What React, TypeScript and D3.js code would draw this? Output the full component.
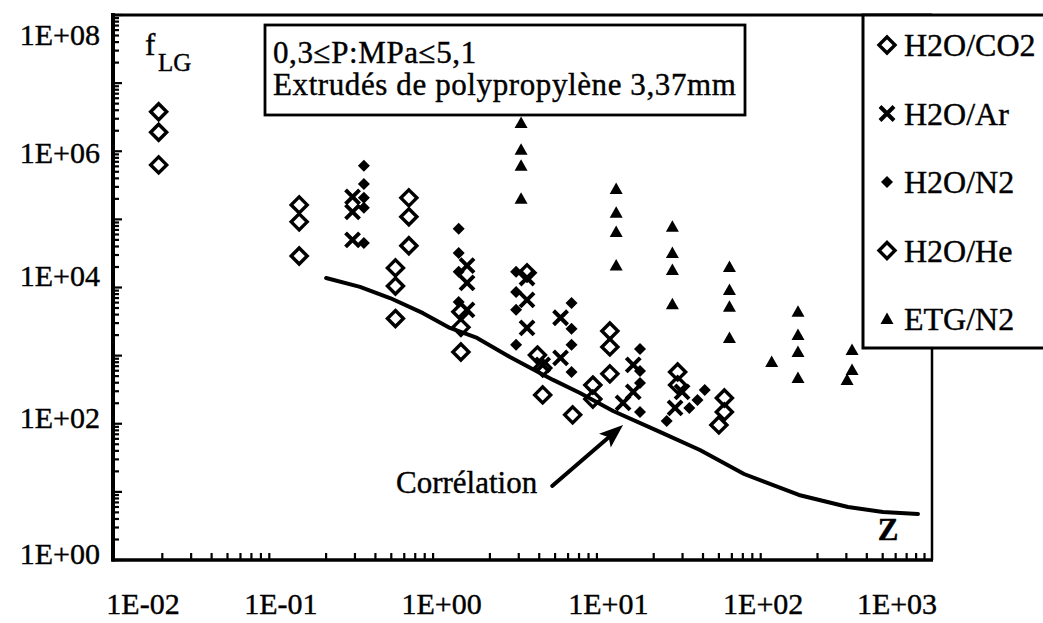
import React, { useEffect, useRef } from 'react';
import * as d3 from 'd3';

// [Z, f_LG] pairs
const h2oCo2: [number, number][] = [
  [0.019, 3.8e6], [0.019, 1.9e6], [0.019, 6.3e5],
  [0.137, 1.63e5], [0.137, 9.2e4], [0.137, 2.9e4],
  [0.64, 2.07e5], [0.64, 1.09e5], [0.64, 4.1e4],
  [0.53, 1.94e4], [0.53, 1.05e4], [0.53, 3.5e3],
  [1.33, 4.4e3], [1.33, 2.6e3], [1.33, 1.13e3],
];
const h2oAr: [number, number][] = [
  [0.29, 2.14e5], [0.29, 1.29e5], [0.29, 5.0e4],
  [1.45, 2.1e4], [1.45, 1.17e4], [1.45, 4.7e3],
  [3.37, 1.38e4], [3.37, 6.6e3], [3.37, 2.55e3],
  [4.2, 730], [5.4, 3.6e3], [5.4, 925],
  [13.0, 202], [15, 730], [15, 293],
  [29.8, 293], [27, 171],
];
const h2oN2: [number, number][] = [
  [0.34, 6.1e5], [0.34, 3.3e5], [0.34, 2.07e5], [0.34, 1.48e5], [0.34, 4.5e4],
  [1.29, 7.3e4], [1.29, 3.2e4], [1.29, 1.7e4], [1.29, 6.1e3],
  [2.89, 1.7e4], [2.89, 8.6e3], [2.89, 4.7e3], [2.89, 1.44e3],
  [6.3, 5.9e3], [6.3, 2.47e3], [6.3, 1.44e3], [6.3, 576],
  [16.5, 1.25e3], [16.5, 596], [16.5, 397], [16.5, 149],
  [24, 110], [41, 313], [37, 224], [33, 171],
];
const h2oHe: [number, number][] = [
  [3.37, 1.64e4], [3.9, 1.02e3], [4.2, 660], [4.2, 265],
  [6.4, 135], [8.5, 370], [8.5, 230],
  [10.8, 2.3e3], [10.8, 1.34e3], [10.8, 540],
  [28, 576], [28, 371],
  [54, 239], [54, 149], [50, 96],
];
const etgN2: [number, number][] = [
  [3.1, 2.6e6], [3.1, 1.05e6], [3.1, 6.1e5], [3.1, 2.0e5],
  [11.8, 2.8e5], [11.8, 1.25e5], [11.8, 6.5e4], [11.8, 2.1e4],
  [26, 7.8e4], [26, 3.2e4], [26, 1.8e4], [26, 5.7e3],
  [58, 2.0e4], [58, 9.2e3], [58, 5.2e3], [58, 1.82e3],
  [105, 808],
  [152, 4.4e3], [152, 2.0e3], [152, 1.13e3], [152, 471],
  [325, 1.21e3], [325, 617], [303, 440],
];

// correlation curve
const corrZ = [0.2, 0.322, 0.491, 0.781, 1.14, 1.67, 2.65, 4.86, 7.1, 11.3, 21.8, 38.3, 71.2, 154, 307, 502, 821];
const corrF = [1.38e4, 1.02e4, 7.0e3, 4.2e3, 2.55e3, 1.82e3, 957, 440, 283, 154, 75.8, 41.2, 18.3, 9.0, 6.0, 5.07, 4.74];

const xTickValues = [1e-2, 1e-1, 1, 10, 100, 1000];
const xTickLabels = ['1E-02', '1E-01', '1E+00', '1E+01', '1E+02', '1E+03'];
const yTickValues = [1, 1e2, 1e4, 1e6, 1e8];
const yTickLabels = ['1E+00', '1E+02', '1E+04', '1E+06', '1E+08'];

const legendNames = ['H2O/CO2', 'H2O/Ar', 'H2O/N2', 'H2O/He', 'ETG/N2'];
const legendShapes = ['diamond', 'cross', 'dot', 'diamond', 'triangle'];

const FONT = 'Times New Roman, Liberation Serif, DejaVu Serif, serif';

function App() {
  const ref = useRef<SVGSVGElement>(null);

  useEffect(() => {
    const svg = d3.select(ref.current);
    svg.selectAll('*').remove();

    const left = 113, right = 932, top = 15, bottom = 560;
    const x = d3.scaleLog().domain([1e-2, 1e3]).range([left, right]);
    const y = d3.scaleLog().domain([1, 1e8]).range([bottom, top]);

    // helper so every text gets the same slightly heavy "scanned" look
    const txt = (sel: any) => sel.style('font-family', FONT)
      .attr('stroke', '#000').attr('stroke-width', 0.4).attr('fill', '#000');

    // minor / major ticks, pointing inwards
    const minorX: number[] = [], minorY: number[] = [];
    for (let k = -2; k < 3; k++) for (let m = 2; m <= 9; m++) minorX.push(m * Math.pow(10, k));
    for (let k = 0; k < 8; k++) for (let m = 2; m <= 9; m++) minorY.push(m * Math.pow(10, k));
    const majorY = d3.range(0, 9).map(k => Math.pow(10, k));

    const ticks = svg.append('g').attr('stroke', '#000').attr('stroke-width', 2.2);
    ticks.selectAll('.mx').data(minorX).enter().append('line')
      .attr('x1', d => x(d)).attr('x2', d => x(d))
      .attr('y1', bottom).attr('y2', bottom - 7);
    ticks.selectAll('.my').data(minorY).enter().append('line')
      .attr('y1', d => y(d)).attr('y2', d => y(d))
      .attr('x1', left).attr('x2', left + 6);
    ticks.selectAll('.My').data(majorY).enter().append('line')
      .attr('y1', d => y(d)).attr('y2', d => y(d))
      .attr('x1', left).attr('x2', left + 9);

    // frame
    svg.append('line').attr('x1', left).attr('x2', left).attr('y1', top - 2).attr('y2', bottom + 1.5)
      .attr('stroke', '#000').attr('stroke-width', 4);
    svg.append('line').attr('x1', left - 1.5).attr('x2', right + 1).attr('y1', bottom).attr('y2', bottom)
      .attr('stroke', '#000').attr('stroke-width', 3.5);
    svg.append('line').attr('x1', left).attr('x2', right).attr('y1', top).attr('y2', top)
      .attr('stroke', '#000').attr('stroke-width', 3);
    svg.append('line').attr('x1', right).attr('x2', right).attr('y1', top).attr('y2', bottom)
      .attr('stroke', '#000').attr('stroke-width', 2.5);

    // tick labels (edge labels pulled inwards like the original)
    const xShift = [30, 4, 1, 4, -5, -35];
    svg.append('g').selectAll('text').data(xTickValues).enter().append('text')
      .attr('x', (d, i) => x(d) + xShift[i]).attr('y', 614)
      .attr('text-anchor', 'middle').attr('font-size', 30)
      .call(txt)
      .text((d, i) => xTickLabels[i]);
    const yShift = [-6, -6, -12, 2, 20];
    svg.append('g').selectAll('text').data(yTickValues).enter().append('text')
      .attr('x', 100).attr('y', (d, i) => y(d) + yShift[i] + 10)
      .attr('text-anchor', 'end').attr('font-size', 30)
      .call(txt)
      .text((d, i) => yTickLabels[i]);

    // correlation curve
    const line = d3.line<number>().x((d, i) => x(corrZ[i])).y(d => y(d));
    svg.append('path').datum(corrF).attr('d', line)
      .attr('fill', 'none').attr('stroke', '#000').attr('stroke-width', 4)
      .attr('stroke-linecap', 'round').attr('stroke-linejoin', 'round');

    // marker shapes
    const shapePath = (s: string) => {
      if (s === 'diamond') return 'M0,-8L8,0L0,8L-8,0Z';
      if (s === 'dot') return 'M0,-6L6,0L0,6L-6,0Z';
      if (s === 'triangle') return 'M0,-6.5L6.5,5L-6.5,5Z';
      return 'M-7,-7L7,7M7,-7L-7,7';
    };
    const drawMarker = (g: any, s: string) => {
      const p = g.append('path').attr('d', shapePath(s));
      if (s === 'diamond') p.attr('fill', 'none').attr('stroke', '#000').attr('stroke-width', 3.4);
      else if (s === 'cross') p.attr('fill', 'none').attr('stroke', '#000').attr('stroke-width', 4);
      else p.attr('fill', '#000');
    };
    const plotSeries = (data: [number, number][], s: string) => {
      const g = svg.append('g');
      data.forEach(d => {
        const m = g.append('g').attr('transform', `translate(${x(d[0])},${y(d[1])})`);
        drawMarker(m, s);
      });
    };
    plotSeries(h2oAr, 'cross');
    plotSeries(h2oN2, 'dot');
    plotSeries(h2oCo2, 'diamond');
    plotSeries(h2oHe, 'diamond');
    plotSeries(etgN2, 'triangle');

    // axis name labels
    const fl = svg.append('text').attr('x', 145).attr('y', 55).attr('font-size', 31).call(txt);
    fl.append('tspan').text('f');
    fl.append('tspan').attr('x', 158).attr('y', 71).attr('font-size', 25).text('LG');
    svg.append('text').attr('x', 888).attr('y', 540).attr('text-anchor', 'middle')
      .attr('font-size', 31).attr('font-weight', 'bold').call(txt).text('Z');

    // conditions box
    svg.append('rect').attr('x', 265).attr('y', 25).attr('width', 480).attr('height', 90)
      .attr('fill', '#fff').attr('stroke', '#000').attr('stroke-width', 2.8);
    svg.append('text').attr('x', 273).attr('y', 63).attr('font-size', 31)
      .attr('letter-spacing', 0.6).call(txt).text('0,3≤P:MPa≤5,1');
    svg.append('text').attr('x', 273).attr('y', 95).attr('font-size', 31)
      .attr('letter-spacing', 0.6).call(txt).text('Extrudés de polypropylène 3,37mm');

    // correlation arrow
    const tip: [number, number] = [x(13), y(96)];
    const tail: [number, number] = [x(4.8), y(12.2)];
    const dx = tip[0] - tail[0], dy = tip[1] - tail[1];
    const len = Math.sqrt(dx * dx + dy * dy);
    const ux = dx / len, uy = dy / len;
    const hl = 24, hw = 9;
    const bx = tip[0] - ux * hl, by = tip[1] - uy * hl;
    svg.append('line').attr('x1', tail[0]).attr('y1', tail[1]).attr('x2', bx + ux * 4).attr('y2', by + uy * 4)
      .attr('stroke', '#000').attr('stroke-width', 4).attr('stroke-linecap', 'round');
    svg.append('path')
      .attr('d', `M${tip[0]},${tip[1]}L${bx - uy * hw},${by + ux * hw}L${bx + ux * 5},${by + uy * 5}L${bx + uy * hw},${by - ux * hw}Z`)
      .attr('fill', '#000');
    svg.append('text').attr('x', tail[0] - 15).attr('y', tail[1] + 7).attr('text-anchor', 'end')
      .attr('font-size', 31).call(txt).text('Corrélation');

    // legend
    svg.append('rect').attr('x', 863).attr('y', 15).attr('width', 220).attr('height', 333)
      .attr('fill', '#fff').attr('stroke', '#000').attr('stroke-width', 3);
    legendNames.forEach((name, i) => {
      const cy = 45 + i * 68.5;
      const m = svg.append('g').attr('transform', `translate(887,${cy})`);
      drawMarker(m, legendShapes[i]);
      svg.append('text').attr('x', 904).attr('y', cy + 11)
        .attr('font-size', 32).call(txt).text(name);
    });
  }, []);

  return (
    <svg ref={ref} width={1043} height={623}
      style={{ position: 'absolute', left: 0, top: 0, background: '#fff' }} />
  );
}

export default App;
